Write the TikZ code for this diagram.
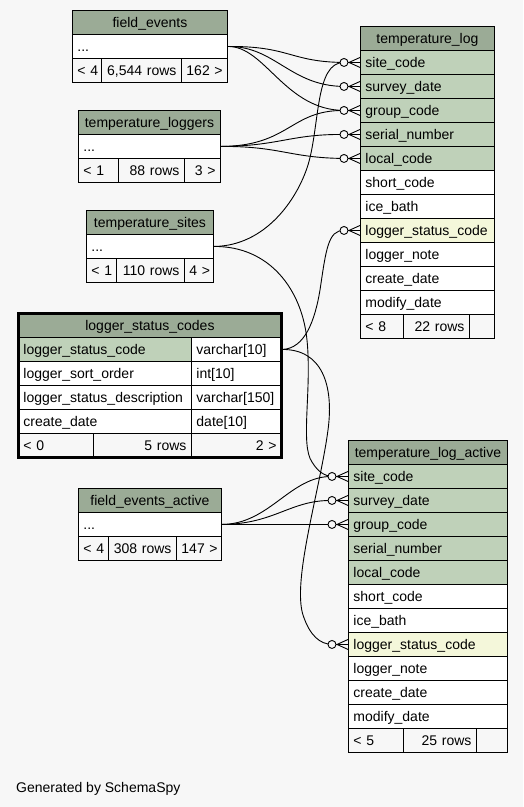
\documentclass[tikz,border=0pt]{standalone}
\usepackage{fontspec}
\setmainfont{Liberation Sans}
\usetikzlibrary{calc}
\definecolor{bg}{HTML}{F7F7F7}
\definecolor{hdr}{HTML}{9BAB96}
\definecolor{keyc}{HTML}{BFD1B9}
\definecolor{hil}{HTML}{F4F7DA}
\newcommand\dgfont{\fontsize{14}{16}\selectfont}
\tikzset{
  cell/.style={draw=black, line width=0.9pt, anchor=north west, minimum height=24pt,
    inner xsep=5pt, inner ysep=0pt, text height=10pt, text depth=0pt, font=\dgfont, align=left},
  hd/.style={cell, fill=hdr, align=center},
  kc/.style={cell, fill=keyc},
  hc/.style={cell, fill=hil},
  wc/.style={cell, fill=white},
  fl/.style={cell, fill=bg, align=left},
  fr/.style={cell, fill=bg, align=right},
  edge/.style={draw=black, line width=0.9pt},
}
\newcommand\tc[6]{\node[#5, text width=#4pt-10pt] (#1) at (#2,#3) {#6};}
\newcommand\crow[1]{%
  \draw[edge] ($(#1.west)+(-12,0)$) -- (#1.west)
    ($(#1.west)+(-11,0)$) -- ($(#1.west)+(0,5)$)
    ($(#1.west)+(-11,0)$) -- ($(#1.west)+(0,-5)$);
  \draw[edge, fill=bg] ($(#1.west)+(-16,0)$) circle (4pt);}
\begin{document}
\begin{tikzpicture}[x=1pt,y=-1pt]
\fill[bg] (0,0) rectangle (523,807);
\useasboundingbox (0,0) rectangle (523,807);

% field_events
\tc{fe-h}{72}{10}{155}{hd}{field\_events}
\tc{fe-r}{72}{34}{155}{wc}{...}
\tc{fe-f1}{72}{58}{29}{fl}{<~4}
\tc{fe-f2}{101}{58}{80}{fr}{6,544~rows}
\tc{fe-f3}{181}{58}{46}{fr}{162~>}

% temperature_loggers
\tc{tlg-h}{78}{110}{142}{hd}{temperature\_loggers}
\tc{tlg-r}{78}{134}{142}{wc}{...}
\tc{tlg-f1}{78}{158}{40}{fl}{<~1}
\tc{tlg-f2}{118}{158}{66}{fr}{88~rows}
\tc{tlg-f3}{184}{158}{36}{fr}{3~>}

% temperature_sites
\tc{ts-h}{86}{210}{127}{hd}{temperature\_sites}
\tc{ts-r}{86}{234}{127}{wc}{...}
\tc{ts-f1}{86}{258}{30}{fl}{<~1}
\tc{ts-f2}{116}{258}{68}{fr}{110~rows}
\tc{ts-f3}{184}{258}{29}{fr}{4~>}

% logger_status_codes
\tc{lsc-h}{18}{313}{263}{hd}{logger\_status\_codes}
\tc{lsc-r1a}{18}{337}{173}{kc}{logger\_status\_code}
\tc{lsc-r1b}{191}{337}{90}{wc}{varchar[10]}
\tc{lsc-r2a}{18}{361}{173}{wc}{logger\_sort\_order}
\tc{lsc-r2b}{191}{361}{90}{wc}{int[10]}
\tc{lsc-r3a}{18}{385}{173}{wc}{logger\_status\_description}
\tc{lsc-r3b}{191}{385}{90}{wc}{varchar[150]}
\tc{lsc-r4a}{18}{409}{173}{wc}{create\_date}
\tc{lsc-r4b}{191}{409}{90}{wc}{date[10]}
\tc{lsc-f1}{18}{433}{75}{fl}{<~0}
\tc{lsc-f2}{93}{433}{98}{fr}{5~rows}
\tc{lsc-f3}{191}{433}{90}{fr}{2~>}
\draw[line width=3pt] (lsc-h.north west) rectangle (lsc-f3.south east);

% temperature_log
\tc{tl-h}{360}{26}{134}{hd}{temperature\_log}
\tc{tl-site}{360}{50}{134}{kc}{site\_code}
\tc{tl-survey}{360}{74}{134}{kc}{survey\_date}
\tc{tl-group}{360}{98}{134}{kc}{group\_code}
\tc{tl-serial}{360}{122}{134}{kc}{serial\_number}
\tc{tl-local}{360}{146}{134}{kc}{local\_code}
\tc{tl-short}{360}{170}{134}{wc}{short\_code}
\tc{tl-ice}{360}{194}{134}{wc}{ice\_bath}
\tc{tl-lsc}{360}{218}{134}{hc}{logger\_status\_code}
\tc{tl-note}{360}{242}{134}{wc}{logger\_note}
\tc{tl-create}{360}{266}{134}{wc}{create\_date}
\tc{tl-modify}{360}{290}{134}{wc}{modify\_date}
\tc{tl-f1}{360}{314}{43}{fl}{<~8}
\tc{tl-f2}{403}{314}{66}{fr}{22~rows}
\tc{tl-f3}{469}{314}{25}{fr}{}

% temperature_log_active
\tc{tla-h}{348}{440}{159}{hd}{temperature\_log\_active}
\tc{tla-site}{348}{464}{159}{kc}{site\_code}
\tc{tla-survey}{348}{488}{159}{kc}{survey\_date}
\tc{tla-group}{348}{512}{159}{kc}{group\_code}
\tc{tla-serial}{348}{536}{159}{kc}{serial\_number}
\tc{tla-local}{348}{560}{159}{kc}{local\_code}
\tc{tla-short}{348}{584}{159}{wc}{short\_code}
\tc{tla-ice}{348}{608}{159}{wc}{ice\_bath}
\tc{tla-lsc}{348}{632}{159}{hc}{logger\_status\_code}
\tc{tla-note}{348}{656}{159}{wc}{logger\_note}
\tc{tla-create}{348}{680}{159}{wc}{create\_date}
\tc{tla-modify}{348}{704}{159}{wc}{modify\_date}
\tc{tla-f1}{348}{728}{55}{fl}{<~5}
\tc{tla-f2}{403}{728}{73}{fr}{25~rows}
\tc{tla-f3}{476}{728}{31}{fr}{}

% field_events_active
\tc{fea-h}{78}{488}{143}{hd}{field\_events\_active}
\tc{fea-r}{78}{512}{143}{wc}{...}
\tc{fea-f1}{78}{536}{30}{fl}{<~4}
\tc{fea-f2}{108}{536}{68}{fr}{308~rows}
\tc{fea-f3}{176}{536}{45}{fr}{147~>}

% connectors
\draw[edge] (fe-r.east) .. controls (290,46) and (290,62) .. ($(tl-site.west)+(-16,0)$);
\draw[edge] (fe-r.east) .. controls (275,46) and (290,86) .. ($(tl-survey.west)+(-16,0)$);
\draw[edge] (fe-r.east) .. controls (265,46) and (285,110) .. ($(tl-group.west)+(-16,0)$);
\draw[edge] (tlg-r.east) .. controls (290,146) and (290,110) .. ($(tl-group.west)+(-16,0)$);
\draw[edge] (tlg-r.east) .. controls (280,146) and (290,134) .. ($(tl-serial.west)+(-16,0)$);
\draw[edge] (tlg-r.east) .. controls (280,146) and (290,158) .. ($(tl-local.west)+(-16,0)$);
\draw[edge] (ts-r.east) .. controls (265,246) and (297,200) .. (308,165)
  .. controls (320,125) and (315,62) .. ($(tl-site.west)+(-16,0)$);
\draw[edge] (ts-r.east) .. controls (270,246) and (302,290) .. (307,340)
  .. controls (312,390) and (300,445) .. (312,462)
  .. controls (318,472) and (325,476) .. ($(tla-site.west)+(-16,0)$);
\draw[edge] (lsc-r1b.east) .. controls (305,349) and (315,320) .. (320,290)
  .. controls (326,250) and (328,230) .. ($(tl-lsc.west)+(-16,0)$);
\draw[edge] (lsc-r1b.east) .. controls (322,349) and (334,385) .. (328,430)
  .. controls (320,490) and (292,580) .. (303,615)
  .. controls (310,636) and (320,644) .. ($(tla-lsc.west)+(-16,0)$);
\draw[edge] (fea-r.east) .. controls (270,524) and (290,476) .. ($(tla-site.west)+(-16,0)$);
\draw[edge] (fea-r.east) .. controls (275,524) and (290,500) .. ($(tla-survey.west)+(-16,0)$);
\draw[edge] (fea-r.east) -- ($(tla-group.west)+(-16,0)$);

\crow{tl-site}
\crow{tl-survey}
\crow{tl-group}
\crow{tl-serial}
\crow{tl-local}
\crow{tl-lsc}
\crow{tla-site}
\crow{tla-survey}
\crow{tla-group}
\crow{tla-lsc}

\node[anchor=base west, font=\dgfont, inner sep=0pt] (gen) at (16,792) {Generated by SchemaSpy};
\end{tikzpicture}
\end{document}
